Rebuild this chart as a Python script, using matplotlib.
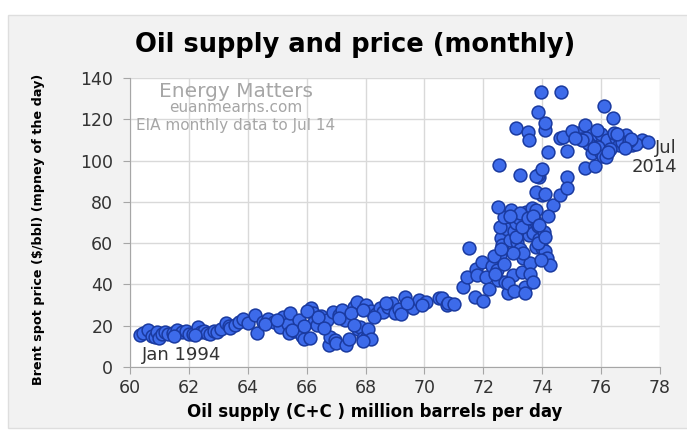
import matplotlib
matplotlib.use("Agg")
import matplotlib.pyplot as plt
from matplotlib.patches import Rectangle

# monthly points: oil supply (mb/d) and Brent price ($/bbl)
supply = [
    60.35, 60.45, 60.6, 60.75, 60.85, 60.9, 61.0, 61.1, 61.2, 61.3,
    61.45, 61.6, 61.75, 61.9, 62.0, 62.15, 62.3, 62.4, 62.5, 62.6,
    62.7, 62.85, 62.95, 63.1, 63.25, 63.35, 63.4, 63.55, 63.7, 63.85,
    64.0, 64.25, 64.3, 64.5, 64.7, 64.9, 65.1, 65.2, 65.35, 65.4,
    65.45, 65.6, 65.75, 65.85, 65.9, 66.1, 66.15, 66.2, 66.25, 66.35,
    66.5, 66.7, 66.75, 66.8, 66.9, 66.95, 67.0, 67.1, 67.2, 67.3,
    67.35, 67.45, 67.6, 67.7, 67.75, 67.8, 67.9, 68.0, 68.05, 68.1,
    68.2, 68.35, 68.5, 68.6, 68.75, 68.9, 69.0, 69.15, 69.35, 69.5,
    69.6, 69.8, 70.05, 70.5, 70.6, 70.75, 70.8, 71.0, 71.3, 71.45,
    71.5, 71.7, 71.75, 71.8, 71.95, 72.0, 72.1, 72.3, 72.5, 72.55,
    72.6, 72.65, 72.75, 72.8, 72.85, 72.9, 73.0, 73.05, 73.1, 73.2,
    73.3, 73.35, 73.4, 73.5, 73.55, 73.6, 73.7, 73.8, 73.9, 74.0,
    74.1, 74.15, 74.25, 74.35, 72.55, 72.7, 72.95, 73.15, 73.25, 73.45,
    73.65, 73.75, 73.85, 74.05, 72.35, 72.45, 72.85, 73.05, 73.35, 73.6,
    73.85, 73.95, 74.2, 72.5, 73.25, 73.8, 74.0, 73.9, 74.6, 73.85,
    76.1, 76.4, 73.1, 73.5, 74.1, 74.1, 73.55, 74.6, 74.7, 74.2,
    74.85, 73.25, 73.8, 74.0, 74.85, 74.85, 75.45, 75.8, 75.2, 75.45,
    75.7, 76.0, 76.2, 76.5, 76.85, 77.05, 77.4, 75.7, 76.0, 75.6,
    76.6, 73.8, 74.1, 75.3, 75.55, 75.9, 76.3, 76.7, 77.2, 75.85,
    76.05, 76.45, 76.95, 77.6, 75.0, 75.5, 76.15,
    64.6, 65.0, 65.5, 65.9, 66.4, 66.6, 67.1, 67.5, 67.9, 68.3,
    68.7, 69.2, 69.4, 69.9, 66.0, 67.6, 68.2, 67.9, 61.5, 62.2,
    72.2, 72.4, 72.7, 73.0, 73.1, 73.3, 73.5, 73.7, 73.9, 74.1,
    73.4, 73.7, 72.9, 72.6, 75.35, 75.75, 76.25, 76.55, 77.0, 75.1,
    76.8,
]
price = [
    15.5, 16.5, 17.9, 15.0, 14.5, 16.8, 14.2, 16.0, 17.1, 15.8,
    16.5, 17.9, 16.9, 17.6, 16.2, 16.0, 19.5, 16.8, 17.5, 16.6,
    15.9, 17.6, 16.8, 18.5, 21.2, 19.8, 18.8, 20.2, 22.0, 23.1,
    21.5, 25.2, 16.6, 21.8, 23.1, 22.0, 19.5, 24.4, 20.8, 16.3,
    26.3, 17.5, 22.8, 15.0, 13.4, 13.9, 28.4, 26.0, 22.0, 20.5,
    24.5, 22.8, 10.7, 14.7, 26.8, 13.0, 11.5, 25.0, 27.5, 22.8,
    10.7, 13.5, 28.9, 31.6, 18.5, 19.5, 13.9, 30.2, 14.7, 18.5,
    27.0, 25.5, 28.4, 26.5, 29.2, 30.8, 26.0, 28.0, 34.0, 29.5,
    28.4, 32.5, 31.6, 33.3, 33.3, 30.0, 31.0, 30.5, 38.9, 43.7,
    57.5, 34.0, 47.5, 44.5, 51.0, 32.0, 43.7, 49.0, 42.0, 54.3,
    62.4, 59.0, 41.0, 67.0, 35.7, 61.6, 44.6, 66.0, 70.0, 72.0,
    46.2, 52.8, 38.9, 66.5, 64.0, 50.2, 65.0, 58.0, 62.0, 57.5,
    56.0, 53.0, 49.4, 78.5, 68.0, 72.5, 76.0, 60.5, 57.0, 75.0,
    77.0, 70.5, 68.5, 65.5, 54.0, 47.0, 40.5, 37.0, 55.0, 45.0,
    60.0, 52.0, 73.0, 77.7, 74.4, 76.1, 83.3, 92.2, 83.3, 93.0,
    126.5, 120.6, 115.6, 114.0, 114.6, 118.0, 110.0, 110.8, 111.5, 104.3,
    104.6, 93.0, 92.5, 96.0, 92.2, 86.5, 96.2, 97.5, 113.2, 117.3,
    112.5, 113.0, 110.0, 111.0, 112.6, 107.6, 110.0, 103.5, 103.5, 108.0,
    107.5, 85.0, 84.0, 110.5, 108.5, 106.5, 105.5, 109.0, 108.0, 115.0,
    102.0, 113.5, 109.5, 109.0, 114.5, 111.0, 101.5,
    21.0, 23.0, 18.0, 20.0, 24.0, 19.0, 23.5, 26.0, 27.5, 24.0,
    31.0, 25.5, 31.0, 30.0, 27.0, 20.5, 13.5, 12.5, 15.0, 15.5,
    38.0, 45.0, 50.0, 55.0, 63.0, 68.0, 72.0, 73.0, 69.0, 63.0,
    36.0, 41.0, 73.0, 57.0, 110.0, 106.0, 104.0, 113.0, 110.5, 111.0,
    106.0,
]
# the four highest months, plotted on their own so they stand out above the cloud
top_supply = [73.95, 74.63, 73.87, 72.54]
top_price = [133.0, 133.4, 123.7, 97.9]

fig = plt.figure(figsize=(6.87, 4.32), dpi=100)
fig.patch.set_facecolor('white')
fig.add_artist(Rectangle((8 / 687, 4 / 432), 1, 413 / 432, transform=fig.transFigure,
                         facecolor='#f2f2f2', edgecolor='#dedede', linewidth=1, zorder=0))

ax = fig.add_axes([130 / 687, 65 / 432, 530 / 687, 289 / 432])
ax.set_facecolor('white')
ax.scatter(supply, price, s=85, color='#3d6bea', edgecolor='#1a3aa0', linewidth=1.1, zorder=3)
ax.scatter(top_supply, top_price, s=85, color='#3d6bea', edgecolor='#1a3aa0', linewidth=1.1, zorder=3)

ax.set_xlim(60, 78)
ax.set_ylim(0, 140)
ax.set_xticks(range(60, 79, 2))
ax.set_yticks(range(0, 141, 20))
ax.grid(True, color='#d9d9d9', linewidth=1)
ax.set_axisbelow(True)
for s in ['top', 'right']:
    ax.spines[s].set_visible(False)
for s in ['left', 'bottom']:
    ax.spines[s].set_color('#a6a6a6')
ax.tick_params(direction='out', length=5, color='#a6a6a6', labelsize=12.5, labelcolor='#333333')
ax.tick_params(axis='y', pad=7)

ax.set_xlabel("Oil supply (C+C ) million barrels per day", fontsize=12, fontweight='bold')
ax.xaxis.set_label_coords(0.462, -0.125)
ax.set_ylabel("Brent spot price ($/bbl) (mpney of the day)", fontsize=9.2, fontweight='bold')
ax.yaxis.set_label_coords(-0.16, 0.477)
fig.text(355 / 687, 1 - 45 / 432, "Oil supply and price (monthly)", ha='center', va='center',
         fontsize=18.5, fontweight='bold')

ax.text(63.6, 133.5, "Energy Matters", color='#a6a6a6', fontsize=14.5, ha='center', va='center')
ax.text(63.6, 125.5, "euanmearns.com", color='#a6a6a6', fontsize=11, ha='center', va='center')
ax.text(63.6, 117, "EIA monthly data to Jul 14", color='#a6a6a6', fontsize=11, ha='center', va='center')
ax.text(60.42, 5.8, "Jan 1994", color='#333333', fontsize=13, ha='left', va='center')
ax.text(78.58, 106, "Jul", color='#333333', fontsize=13, ha='right', va='center', clip_on=False)
ax.text(78.58, 97, "2014", color='#333333', fontsize=13, ha='right', va='center', clip_on=False)

fig.savefig("out.png", dpi=100)
